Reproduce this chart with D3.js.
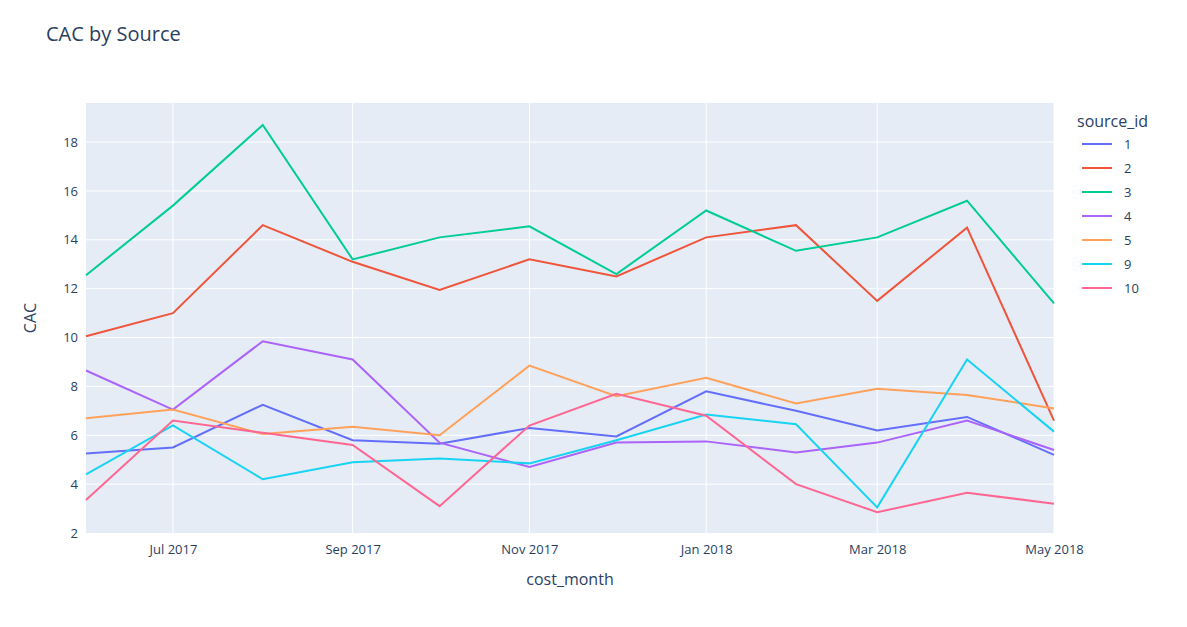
<!DOCTYPE html>
<html>
<head>
<meta charset="utf-8">
<script src="https://cdn.jsdelivr.net/npm/d3@7"></script>
<style>
body { margin: 0; background: #fff; }
text { font-family: "Open Sans", sans-serif; fill: #2a3f5f; }
</style>
</head>
<body>
<svg id="chart" width="1187" height="627"></svg>
<script>
// months from Jun 2017 to May 2018
var months = ["2017-06","2017-07","2017-08","2017-09","2017-10","2017-11","2017-12","2018-01","2018-02","2018-03","2018-04","2018-05"];
var sourceIds = ["1","2","3","4","5","9","10"];
var colors = ["#636efa","#EF553B","#00cc96","#ab63fa","#FFA15A","#19d3f3","#FF6692"];
var cac1  = [5.25, 5.5, 7.25, 5.8, 5.65, 6.3, 5.95, 7.8, 7.0, 6.2, 6.75, 5.2];
var cac2  = [10.05, 11.0, 14.6, 13.1, 11.95, 13.2, 12.5, 14.1, 14.6, 11.5, 14.5, 6.6];
var cac3  = [12.55, 15.4, 18.7, 13.2, 14.1, 14.55, 12.6, 15.2, 13.55, 14.1, 15.6, 11.4];
var cac4  = [8.65, 7.05, 9.85, 9.1, 5.7, 4.7, 5.7, 5.75, 5.3, 5.7, 6.6, 5.4];
var cac5  = [6.7, 7.05, 6.05, 6.35, 6.0, 8.85, 7.6, 8.35, 7.3, 7.9, 7.65, 7.1];
var cac9  = [4.4, 6.4, 4.2, 4.9, 5.05, 4.85, 5.8, 6.85, 6.45, 3.05, 9.1, 6.15];
var cac10 = [3.35, 6.6, 6.1, 5.6, 3.1, 6.4, 7.7, 6.8, 4.0, 2.85, 3.65, 3.2];
var series = [cac1, cac2, cac3, cac4, cac5, cac9, cac10];
var yTicks = [2, 4, 6, 8, 10, 12, 14, 16, 18];

var parse = d3.timeParse("%Y-%m");
var dates = months.map(parse);

var svg = d3.select("#chart");
var pLeft = 86, pRight = 1054, pTop = 103, pBottom = 533;

var x = d3.scaleTime().domain(d3.extent(dates)).range([pLeft, pRight]);
var y = d3.scaleLinear().domain([2, 19.6]).range([pBottom, pTop]);

svg.append("rect").attr("x", pLeft).attr("y", pTop)
	.attr("width", pRight - pLeft).attr("height", pBottom - pTop).attr("fill", "#E5ECF6");

var xTickDates = months.filter(function(d, i){ return i % 2 === 1; }).map(parse);

svg.append("g").selectAll("line").data(yTicks.slice(1)).join("line")
	.attr("x1", pLeft).attr("x2", pRight)
	.attr("y1", function(d){ return y(d); }).attr("y2", function(d){ return y(d); })
	.attr("stroke", "#fff").attr("stroke-width", 1);
svg.append("g").selectAll("line").data(xTickDates).join("line")
	.attr("y1", pTop).attr("y2", pBottom)
	.attr("x1", function(d){ return x(d); }).attr("x2", function(d){ return x(d); })
	.attr("stroke", "#fff").attr("stroke-width", 1);

var xAxis = svg.append("g").attr("transform", "translate(0," + pBottom + ")")
	.call(d3.axisBottom(x).tickValues(xTickDates).tickFormat(d3.timeFormat("%b %Y")).tickSize(0).tickPadding(12));
xAxis.select(".domain").remove();
xAxis.selectAll("text").attr("font-size", 13).style("fill", "#2a3f5f").style("font-family", "Open Sans");

var yAxis = svg.append("g").attr("transform", "translate(" + pLeft + ",0)")
	.call(d3.axisLeft(y).tickValues(yTicks).tickSize(0).tickPadding(8));
yAxis.select(".domain").remove();
yAxis.selectAll("text").attr("font-size", 13).style("fill", "#2a3f5f").style("font-family", "Open Sans");

var line = d3.line()
	.x(function(d, i){ return x(dates[i]); })
	.y(function(d){ return y(d); });

svg.append("g").selectAll("path").data(series).join("path")
	.attr("d", line).attr("fill", "none")
	.attr("stroke", function(d, i){ return colors[i]; })
	.attr("stroke-width", 2);

svg.append("text").attr("x", 46).attr("y", 41).attr("font-size", 20).text("CAC by Source");
svg.append("text").attr("x", (pLeft + pRight) / 2).attr("y", 585).attr("text-anchor", "middle")
	.attr("font-size", 16).text("cost_month");
svg.append("text").attr("transform", "translate(36," + (pTop + pBottom) / 2 + ") rotate(-90)")
	.attr("text-anchor", "middle").attr("font-size", 16).text("CAC");

var legend = svg.append("g").attr("transform", "translate(1077,0)");
legend.append("text").attr("x", 0).attr("y", 127).attr("font-size", 16).text("source_id");
var item = legend.selectAll("g.item").data(sourceIds).join("g").attr("class", "item")
	.attr("transform", function(d, i){ return "translate(0," + (144 + i * 24) + ")"; });
item.append("line").attr("x1", 5).attr("x2", 35).attr("stroke", function(d, i){ return colors[i]; })
	.attr("stroke-width", 2);
item.append("text").attr("x", 47).attr("y", 5).attr("font-size", 13).text(function(d){ return d; });
</script>
</body>
</html>
